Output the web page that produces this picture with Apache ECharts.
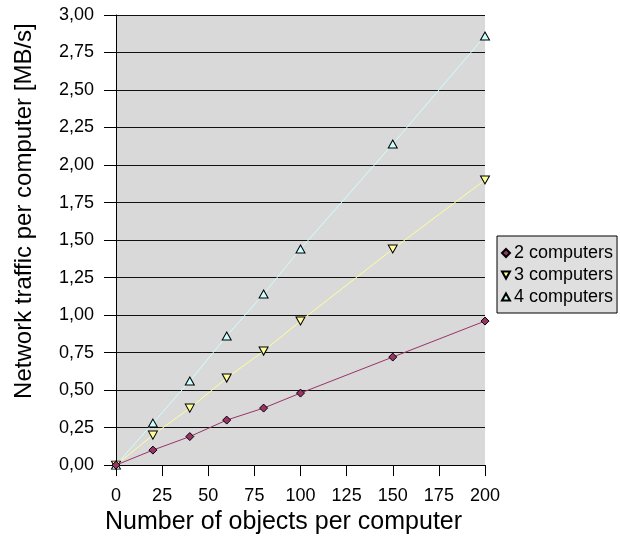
<!DOCTYPE html>
<html>
<head>
<meta charset="utf-8">
<script src="https://cdn.jsdelivr.net/npm/echarts@6/dist/echarts.min.js"></script>
<style>html,body{margin:0;padding:0;background:#fff;}#c{width:620px;height:540px;}</style>
</head>
<body>
<div id="c"></div>
<script>
var objects = [0, 20, 40, 60, 80, 100, 150, 200];
var twoComputers = [0, 0.10, 0.19, 0.30, 0.38, 0.48, 0.72, 0.96];
var threeComputers = [0, 0.20, 0.38, 0.58, 0.76, 0.96, 1.44, 1.90];
var fourComputers = [0, 0.28, 0.56, 0.86, 1.14, 1.44, 2.14, 2.86];
var seriesNames = ['2 computers', '3 computers', '4 computers'];

function pairs(ys) { return objects.map(function (x, i) { return [x, ys[i]]; }); }

var FONT = '"Liberation Sans", Arial, sans-serif';
var chart = echarts.init(document.getElementById('c'), null, {renderer: 'canvas'});
var downTri = 'path://M0,0 L10,0 L5,9 Z';
var upTri = 'path://M5,0 L10,9 L0,9 Z';

chart.setOption({
  animation: false,
  backgroundColor: '#ffffff',
  grid: {left: 116, right: 135, top: 15, bottom: 73, show: true, backgroundColor: '#D9D9D9', borderWidth: 0},
  legend: {
    orient: 'vertical', left: 497, top: 236,
    padding: [8, 4, 7, 4], itemGap: 4, itemWidth: 8, itemHeight: 8,
    backgroundColor: '#DFDFDF', borderColor: '#000', borderWidth: 1,
    textStyle: {fontFamily: FONT, fontSize: 18, color: '#000', lineHeight: 18, padding: [0, 0, 0, -1]},
    data: [
      {name: seriesNames[0], icon: 'diamond'},
      {name: seriesNames[1], icon: downTri},
      {name: seriesNames[2], icon: upTri}
    ]
  },
  xAxis: {
    type: 'value', min: 0, max: 200, interval: 25,
    name: 'Number of objects per computer', nameLocation: 'middle', nameGap: 42,
    nameTextStyle: {fontFamily: FONT, fontSize: 25, color: '#000', padding: [0, 34, 0, 0]},
    axisLine: {show: true, onZero: false, lineStyle: {color: '#000', width: 1}},
    axisTick: {show: true, length: 11, lineStyle: {color: '#000'}},
    axisLabel: {fontFamily: FONT, fontSize: 18, color: '#000', margin: 22},
    splitLine: {show: false}
  },
  yAxis: {
    type: 'value', min: 0, max: 3, interval: 0.25,
    name: 'Network traffic per computer [MB/s]', nameLocation: 'middle', nameGap: 80,
    nameTextStyle: {fontFamily: FONT, fontSize: 24, color: '#000', padding: [0, 0, 0, 58]},
    axisLine: {show: true, lineStyle: {color: '#000', width: 1}},
    axisTick: {show: true, length: 12, lineStyle: {color: '#000'}},
    axisLabel: {fontFamily: FONT, fontSize: 18, color: '#000', margin: 22,
      formatter: function (v) { return v.toFixed(2).replace('.', ','); }},
    splitLine: {show: true, lineStyle: {color: '#111', width: 1}}
  },
  series: [
    {name: seriesNames[2], type: 'line', data: pairs(fourComputers), z: 2,
     symbol: upTri, symbolSize: [9, 8],
     lineStyle: {color: '#CCFFFF', width: 1},
     itemStyle: {color: '#CCFFFF', borderColor: '#000', borderWidth: 1}},
    {name: seriesNames[1], type: 'line', data: pairs(threeComputers), z: 3,
     symbol: downTri, symbolSize: [9, 8],
     lineStyle: {color: '#FFFF99', width: 1},
     itemStyle: {color: '#FFFF99', borderColor: '#000', borderWidth: 1}},
    {name: seriesNames[0], type: 'line', data: pairs(twoComputers), z: 4,
     symbol: 'diamond', symbolSize: 8,
     lineStyle: {color: '#993366', width: 1},
     itemStyle: {color: '#993366', borderColor: '#000', borderWidth: 1}}
  ]
});
</script>
</body>
</html>
